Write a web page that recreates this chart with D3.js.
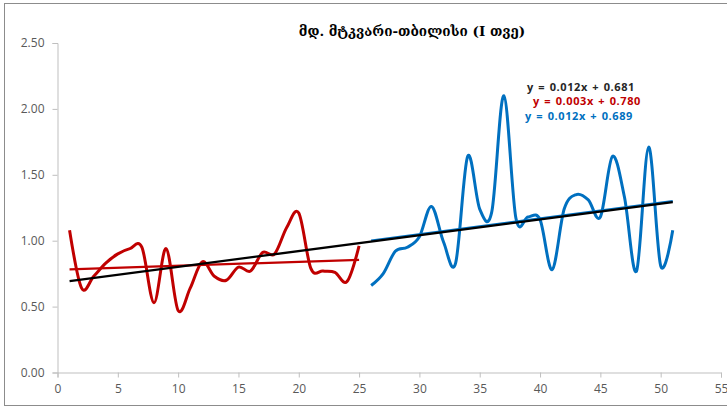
<!DOCTYPE html>
<html>
<head>
<meta charset="utf-8">
<script src="https://cdn.jsdelivr.net/npm/d3@7"></script>
<style>
  html, body { margin: 0; padding: 0; background: #fff; }
  svg { display: block; }
</style>
</head>
<body>
<svg id="chart" width="727" height="407"></svg>
<script>
// datos (I თვე)
const title = 'მდ. მტკვარი-თბილისი (I თვე)';

const redX = d3.range(1, 26);
const redY = [1.08, 0.64, 0.73, 0.83, 0.90, 0.94, 0.95, 0.53, 0.94, 0.47,
              0.64, 0.84, 0.73, 0.70, 0.80, 0.77, 0.91, 0.90, 1.10, 1.21,
              0.79, 0.77, 0.76, 0.69, 0.96];

const blueX = d3.range(26, 52);
const blueY = [0.66, 0.75, 0.92, 0.95, 1.03, 1.26, 0.99, 0.83, 1.64, 1.24,
               1.22, 2.10, 1.17, 1.18, 1.16, 0.78, 1.24, 1.35, 1.31, 1.18,
               1.64, 1.33, 0.77, 1.71, 0.81, 1.08];

// líneas de tendencia: [pendiente, intercepto, x0, x1]
const trendAll  = [0.012, 0.681, 1, 51];
const trendRed  = [0.003, 0.780, 1, 25];
const trendBlue = [0.012, 0.689, 26, 51];

const eqLabels = ['y = 0.012x + 0.681', 'y = 0.003x + 0.780', 'y = 0.012x + 0.689'];

const xTicks = d3.range(0, 56, 5);
const yTicks = [0, 0.5, 1, 1.5, 2, 2.5];

const svg = d3.select('#chart');

// borde exterior del gráfico
svg.append('rect')
  .attr('x', 4.5).attr('y', 3.5).attr('width', 740).attr('height', 402)
  .attr('fill', 'none').attr('stroke', '#8c8c8c').attr('stroke-width', 1);

const x = d3.scaleLinear().domain([0, 55]).range([57.5, 721]);
const y = d3.scaleLinear().domain([0, 2.5]).range([372.5, 43]);

// ejes
const xAxis = svg.append('g')
  .attr('transform', `translate(0,${y(0)})`)
  .call(d3.axisBottom(x).tickValues(xTicks).tickSize(5).tickPadding(7).tickFormat(d3.format('d')));
const yAxis = svg.append('g')
  .attr('transform', `translate(${x(0)},0)`)
  .call(d3.axisLeft(y).tickValues(yTicks).tickSize(5).tickPadding(8).tickFormat(d3.format('.2f')));

[xAxis, yAxis].forEach(a => {
  a.select('.domain').attr('stroke', '#bfbfbf');
  a.selectAll('.tick line').attr('stroke', '#bfbfbf');
  a.selectAll('text')
    .attr('fill', '#595959')
    .attr('font-family', '"Open Sans", sans-serif')
    .attr('font-size', 12);
});

// series suavizadas
const line = d3.line()
  .x(d => x(d[0])).y(d => y(d[1]))
  .curve(d3.curveCardinal.tension(0));

svg.append('path')
  .datum(d3.zip(redX, redY))
  .attr('d', line)
  .attr('fill', 'none').attr('stroke', '#C00000').attr('stroke-width', 3);

svg.append('path')
  .datum(d3.zip(blueX, blueY))
  .attr('d', line)
  .attr('fill', 'none').attr('stroke', '#0070C0').attr('stroke-width', 3);

// tendencias
const trendPts = (t) => [[t[2], t[0] * t[2] + t[1]], [t[3], t[0] * t[3] + t[1]]];
const straight = d3.line().x(d => x(d[0])).y(d => y(d[1]));

[[trendRed, '#C00000'], [trendBlue, '#0070C0'], [trendAll, '#000000']].forEach(([t, c]) => {
  svg.append('path')
    .attr('d', straight(trendPts(t)))
    .attr('fill', 'none').attr('stroke', c).attr('stroke-width', 2.25);
});

// título
svg.append('text')
  .attr('x', 412).attr('y', 36)
  .attr('text-anchor', 'middle')
  .attr('font-family', '"DejaVu Serif", serif')
  .attr('font-weight', 'bold')
  .attr('font-size', 13.5)
  .attr('fill', '#000')
  .text(title);

// ecuaciones
const eqPos = [[581, 90.5, '#262626'], [587, 104.5, '#C00000'], [579, 120, '#0070C0']];
eqLabels.forEach((t, i) => {
  svg.append('text')
    .attr('x', eqPos[i][0]).attr('y', eqPos[i][1])
    .attr('text-anchor', 'middle')
    .attr('font-family', '"Open Sans", sans-serif')
    .attr('font-weight', 'bold')
    .attr('font-size', 11)
    .attr('letter-spacing', 0.6)
    .attr('word-spacing', 1)
    .attr('fill', eqPos[i][2])
    .text(t);
});
</script>
</body>
</html>
